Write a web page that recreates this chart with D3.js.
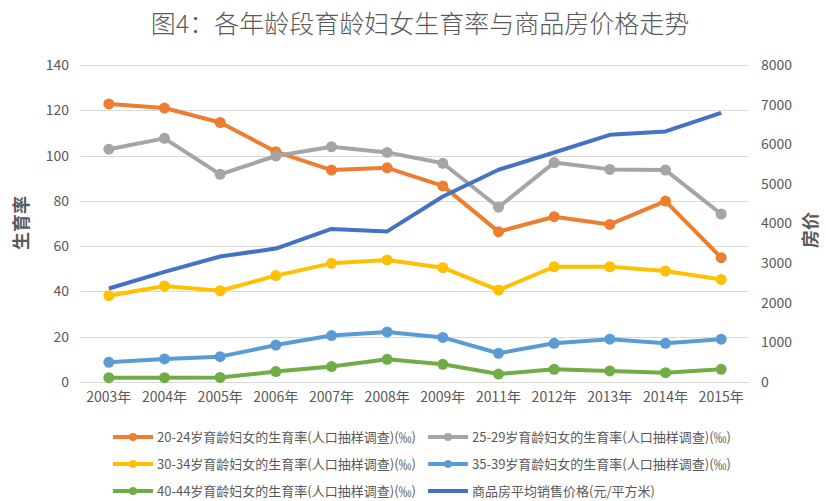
<!DOCTYPE html>
<html><head><meta charset="utf-8">
<script src="https://cdn.jsdelivr.net/npm/d3@7"></script>
<style>
body{margin:0;background:#fff;}
text{font-family:"Noto Sans CJK SC","Noto Sans",sans-serif;}
</style></head>
<body><svg id="c" width="826" height="501"></svg>
<script>
const categories = ["2003年","2004年","2005年","2006年","2007年","2008年","2009年","2011年","2012年","2013年","2014年","2015年"];
const rate2024 = [122.8,121.0,114.6,101.7,93.6,94.6,86.6,66.4,73.0,69.6,79.9,54.9];
const rate2529 = [102.8,107.6,91.7,99.8,103.9,101.4,96.6,77.2,96.9,93.9,93.6,74.2];
const rate3034 = [38.1,42.4,40.3,47.0,52.4,53.9,50.5,40.6,50.9,50.9,49.0,45.3];
const rate3539 = [8.7,10.2,11.2,16.3,20.5,22.1,19.7,12.7,17.1,18.9,17.1,18.9];
const rate4044 = [1.9,1.9,2.0,4.6,6.8,10.0,7.8,3.5,5.6,4.9,4.1,5.6];
const housePrice = [2359,2778,3168,3367,3864,3800,4681,5357,5791,6237,6324,6793];
const leftTicks = [0,20,40,60,80,100,120,140];
const rightTicks = [0,1000,2000,3000,4000,5000,6000,7000,8000];
const seriesNames = [
  "20-24岁育龄妇女的生育率(人口抽样调查)(‰)",
  "25-29岁育龄妇女的生育率(人口抽样调查)(‰)",
  "30-34岁育龄妇女的生育率(人口抽样调查)(‰)",
  "35-39岁育龄妇女的生育率(人口抽样调查)(‰)",
  "40-44岁育龄妇女的生育率(人口抽样调查)(‰)",
  "商品房平均销售价格(元/平方米)"
];
const colors = ["#ED7D31","#A5A5A5","#FFC000","#5B9BD5","#70AD47","#4472C4"];

const svg = d3.select("#c");
const L=81, R=749, T=65, B=382;
const x = d3.scaleBand().domain(categories).range([L,R]);
const yL = d3.scaleLinear().domain([0,140]).range([B,T]);
const yR = d3.scaleLinear().domain([0,8000]).range([B,T]);
const txt = "#595959";

svg.append("text").attr("x",420).attr("y",33).attr("text-anchor","middle")
  .attr("font-size",25).attr("font-weight",300).attr("fill",txt)
  .text("图4：各年龄段育龄妇女生育率与商品房价格走势");

// gridlines
svg.append("g").selectAll("line").data(leftTicks).join("line")
  .attr("x1",L).attr("x2",R).attr("y1",d=>Math.round(yL(d))+0.5).attr("y2",d=>Math.round(yL(d))+0.5)
  .attr("stroke","#D9D9D9").attr("stroke-width",1);

// left axis
const gl = svg.append("g").attr("transform",`translate(${L-12},0)`)
  .call(d3.axisLeft(yL).tickValues(leftTicks).tickSize(0).tickPadding(0));
gl.select(".domain").remove();
gl.selectAll("text").attr("font-size",14).attr("fill",txt).attr("font-family",'"Noto Sans CJK SC",sans-serif');

// right axis
const gr = svg.append("g").attr("transform",`translate(${R+12},0)`)
  .call(d3.axisRight(yR).tickValues(rightTicks).tickFormat(d3.format("d")).tickSize(0).tickPadding(0));
gr.select(".domain").remove();
gr.selectAll("text").attr("font-size",14).attr("fill",txt).attr("font-family",'"Noto Sans CJK SC",sans-serif');

// x axis
const gx = svg.append("g").attr("transform",`translate(0,${B})`)
  .call(d3.axisBottom(x).tickSize(0).tickPadding(10));
gx.select(".domain").attr("stroke","#D9D9D9");
gx.selectAll("text").attr("font-size",14).attr("fill",txt).attr("font-family",'"Noto Sans CJK SC",sans-serif');

// axis titles
svg.append("text").attr("transform",`translate(28,223) rotate(-90)`).attr("text-anchor","middle")
  .attr("font-size",18).attr("font-weight",700).attr("fill",txt).text("生育率");
svg.append("text").attr("transform",`translate(817,230) rotate(-90)`).attr("text-anchor","middle")
  .attr("font-size",18).attr("font-weight",700).attr("fill",txt).text("房价");

const cx = d=>x(d)+x.bandwidth()/2;
const rates = [rate2024,rate2529,rate3034,rate3539,rate4044];

rates.forEach((arr,i)=>{
  const line = d3.line().x((d,j)=>cx(categories[j])).y(d=>yL(d));
  svg.append("path").datum(arr).attr("d",line).attr("fill","none")
    .attr("stroke",colors[i]).attr("stroke-width",4).attr("stroke-linejoin","round");
  svg.append("g").selectAll("circle").data(arr).join("circle")
    .attr("cx",(d,j)=>cx(categories[j])).attr("cy",d=>yL(d)).attr("r",5.5).attr("fill",colors[i]);
});
const pline = d3.line().x((d,j)=>cx(categories[j])).y(d=>yR(d));
svg.append("path").datum(housePrice).attr("d",pline).attr("fill","none")
  .attr("stroke",colors[5]).attr("stroke-width",4).attr("stroke-linejoin","round");

// legend
const legPos = [[113,437],[428,437],[113,464],[428,464],[113,491],[428,491]];
seriesNames.forEach((n,i)=>{
  const [lx,ly]=legPos[i];
  const g = svg.append("g");
  g.append("line").attr("x1",lx).attr("x2",lx+40).attr("y1",ly).attr("y2",ly)
    .attr("stroke",colors[i]).attr("stroke-width",4);
  if(i<5) g.append("circle").attr("cx",lx+20).attr("cy",ly).attr("r",4).attr("fill",colors[i]);
  g.append("text").attr("x",lx+44).attr("y",ly).attr("dy","0.35em")
    .attr("font-size",13).attr("fill",txt).text(n);
});
</script></body></html>
